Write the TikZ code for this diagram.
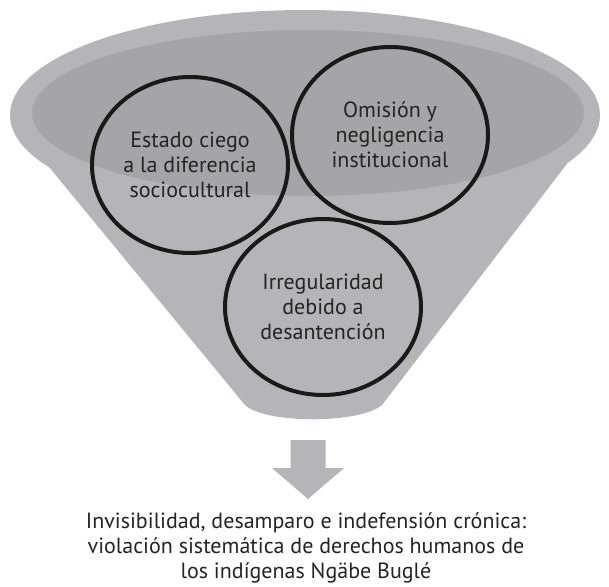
\documentclass[tikz,border=0pt]{standalone}
\usepackage{fontspec}
\setmainfont{PT Sans}
\usepackage{xcolor}
\usetikzlibrary{shapes.geometric}
\definecolor{mgray}{RGB}{180,181,185}
\definecolor{mdark}{RGB}{164,165,169}
\definecolor{mtext}{RGB}{38,35,36}

\begin{document}
\begin{tikzpicture}[x=1pt, y=-1pt,
    label_text/.style={text=mtext, align=center, font=\fontsize{22}{25}\selectfont},
    bubble/.style={label_text, draw=black!90, line width=4pt, ellipse, inner sep=0pt, minimum width=196pt, minimum height=176pt},
    funnel/.style={fill=mgray},
]
\useasboundingbox (0,0) rectangle (609,586);

% the funnel
\fill[funnel] (305,115) ellipse [x radius=295, y radius=105];
\fill[funnel] (12,122) -- (245,405) .. controls (265,424) and (360,424) .. (382,405) -- (599,122) -- cycle;
\fill[mdark] (308,113) ellipse [x radius=276, y radius=83];

\node[bubble] (estado) at (190,165) {Estado ciego\\a la diferencia\\sociocultural};
\node[bubble] (omision) at (390,135) {Omisi\'on y\\negligencia\\institucional};
\node[bubble] (irregular) at (323,307) {Irregularidad\\debido a\\desantenci\'on};

\node[label_text] (result) at (306,548) {Invisibilidad, desamparo e indefensi\'on cr\'onica:\\violaci\'on sistem\'atica de derechos humanos de\\los ind\'igenas Ng\"abe Bugl\'e};

% the arrow down to the result
\coordinate (arrow_top) at (308,440);
\coordinate (arrow_tip) at (308,499);
\fill[mgray] ([xshift=-17.5pt]arrow_top) -- ([xshift=17.5pt]arrow_top) -- ([xshift=17.5pt]arrow_top |- 0,468) -- ([xshift=36pt]arrow_top |- 0,468) -- (arrow_tip) -- ([xshift=-36pt]arrow_top |- 0,468) -- ([xshift=-17.5pt]arrow_top |- 0,468) -- cycle;

\end{tikzpicture}
\end{document}
